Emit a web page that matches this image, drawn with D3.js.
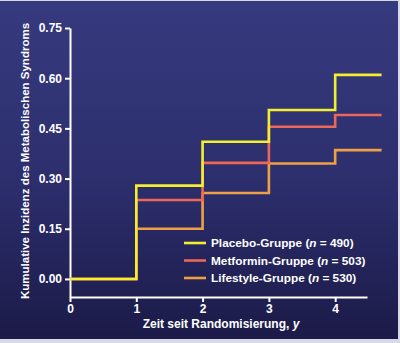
<!DOCTYPE html>
<html><head><meta charset="utf-8">
<script src="https://cdn.jsdelivr.net/npm/d3@7"></script>
<style>html,body{margin:0;padding:0;background:#d8d8e6;}svg{display:block;}</style>
</head><body>
<script>
const series = ["Placebo-Gruppe", "Metformin-Gruppe", "Lifestyle-Gruppe"];
const nValues = [490, 503, 530];
const stepTimes = [0, 1, 2, 3, 4, 4.7];
const placebo   = [0, 0.279, 0.41, 0.505, 0.61, 0.61];
const metformin = [0, 0.236, 0.347, 0.455, 0.49, 0.49];
const lifestyle = [0, 0.15, 0.257, 0.345, 0.385, 0.385];
const xTicks = [0, 1, 2, 3, 4];
const yTicks = [0, 0.15, 0.30, 0.45, 0.60, 0.75];
const colors = ["#f4ee30", "#ee6658", "#f0a044"];

const W = 400, H = 343;
const svg = d3.select("body").append("svg").attr("width", W).attr("height", H);
const defs = svg.append("defs");
const grad = defs.append("linearGradient").attr("id","bg").attr("x1",0).attr("y1",0).attr("x2",0).attr("y2",1);
grad.append("stop").attr("offset","0%").attr("stop-color","#363a7e");
grad.append("stop").attr("offset","55%").attr("stop-color","#2c2e6c");
grad.append("stop").attr("offset","100%").attr("stop-color","#1b1a48");
svg.append("rect").attr("x",0).attr("y",1).attr("width",398).attr("height",338).attr("fill","url(#bg)");

const x = d3.scaleLinear().domain([0, 4.48]).range([70, 367]);
const y = d3.scaleLinear().domain([-0.054, 0.75]).range([297, 28]);

const font = "'Liberation Sans', Arial, Helvetica, sans-serif";

const yAxis = svg.append("g").attr("transform","translate(70,0)")
  .call(d3.axisLeft(y).tickValues(yTicks).tickFormat(d3.format(".2f")).tickSize(5).tickSizeOuter(0));
const xAxis = svg.append("g").attr("transform","translate(0,297)")
  .call(d3.axisBottom(x).tickValues(xTicks).tickFormat(d3.format("d")).tickSize(5).tickSizeOuter(0));
[yAxis, xAxis].forEach(g => {
  g.select(".domain").attr("stroke","#fff").attr("stroke-width",2);
  g.selectAll(".tick line").attr("stroke","#fff").attr("stroke-width",2);
  g.selectAll(".tick text").attr("fill","#fff").attr("font-family",font)
    .attr("font-weight","bold").attr("font-size","12px");
});
yAxis.selectAll(".tick text").attr("x",-8);
xAxis.selectAll(".tick text").attr("y",7);

const data = [placebo, metformin, lifestyle];
const line = d3.line().x(d => x(d[0])).y(d => y(d[1])).curve(d3.curveStepAfter);
// draw lifestyle first, placebo last
[2,1,0].forEach(i => {
  const pts = stepTimes.map((t,k) => [t, data[i][k]]);
  svg.append("path").attr("d", line(pts)).attr("fill","none")
    .attr("stroke", colors[i]).attr("stroke-width",2.6);
});

// legend
const leg = svg.append("g");
series.forEach((s,i) => {
  const yy = 243 + i*17.5;
  leg.append("line").attr("x1",184).attr("x2",206).attr("y1",yy).attr("y2",yy)
    .attr("stroke",colors[i]).attr("stroke-width",2.6);
  const t = leg.append("text").attr("x",211).attr("y",yy).attr("dy","0.36em")
    .attr("fill","#fff").attr("font-family",font).attr("font-weight","bold").attr("font-size","11.8px");
  t.append("tspan").text(s + " (");
  t.append("tspan").attr("font-style","italic").text("n");
  t.append("tspan").text(" = " + nValues[i] + ")");
});

// axis titles
const xt = svg.append("text").attr("x",221).attr("y",324).attr("dy","0.36em").attr("text-anchor","middle")
  .attr("fill","#fff").attr("font-family",font).attr("font-weight","bold").attr("font-size","12px");
xt.append("tspan").text("Zeit seit Randomisierung, ");
xt.append("tspan").attr("font-style","italic").text("y");

svg.append("text").attr("transform","translate(25,161) rotate(-90)").attr("dy","0.36em")
  .attr("text-anchor","middle").attr("fill","#fff").attr("font-family",font)
  .attr("font-weight","bold").attr("font-size","11.5px")
  .text("Kumulative Inzidenz des Metabolischen Syndroms");
</script>
</body></html>
